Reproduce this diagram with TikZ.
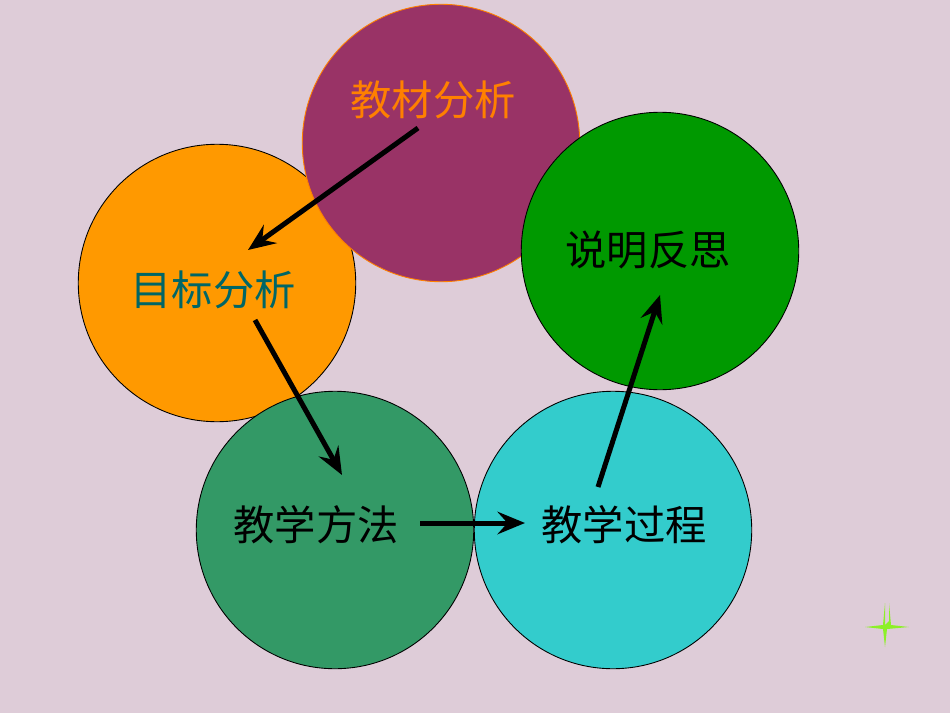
\documentclass[tikz,border=0pt]{standalone}
\usepackage{fontspec}
\newfontfamily\cjk{Noto Sans CJK SC}
\usetikzlibrary{arrows.meta}
\definecolor{bg}{RGB}{222,204,216}
\definecolor{maroon}{RGB}{153,51,102}
\definecolor{orng}{RGB}{255,153,0}
\definecolor{grn}{RGB}{0,153,0}
\definecolor{sea}{RGB}{51,153,102}
\definecolor{cyn}{RGB}{51,204,204}
\definecolor{tealtxt}{RGB}{0,102,102}
\definecolor{lime}{RGB}{140,240,40}
\begin{document}
\begin{tikzpicture}[x=0.02cm,y=-0.02cm,
  ball/.style={circle,minimum size=5.55cm,inner sep=0pt,draw=black,line width=0.5pt},
  lbl/.style={font=\cjk\light\fontsize{23.5}{28}\selectfont},
  flow/.style={line width=0.1cm,-{Stealth[length=0.55cm,width=0.45cm,inset=0.2cm]}}]
\providecommand\light{}
\fill[bg] (0,0) rectangle (950,713);
\useasboundingbox (0,0) rectangle (950,713);
\node[ball,fill=orng] (c2) at (217,283) {};
\node[ball,fill=maroon,draw=orange] (c1) at (441,143) {};
\node[ball,fill=sea] (c3) at (335,530) {};
\node[ball,fill=cyn] (c4) at (613,530) {};
\node[ball,fill=grn] (c5) at (660,251) {};
\node[lbl,text=orange] (t1) at (433,100) {教材分析};
\node[lbl,text=tealtxt] (t2) at (213,290) {目标分析};
\node[lbl] (t3) at (316,525) {教学方法};
\node[lbl] (t4) at (624,525) {教学过程};
\node[lbl] (t5) at (648,250) {说明反思};
\coordinate (a1s) at (418,128); \coordinate (a1e) at (248,250);
\coordinate (a2s) at (255,320); \coordinate (a2e) at (342,475);
\coordinate (a3s) at (420,523); \coordinate (a3e) at (525,523);
\coordinate (a4s) at (598,487); \coordinate (a4e) at (660,295);
\draw[flow] (a1s) -- (a1e);
\draw[flow] (a2s) -- (a2e);
\draw[flow] (a3s) -- (a3e);
\draw[flow] (a4s) -- (a4e);
\coordinate (s0) at (885,625);
\fill[lime] (s0) -- ++(4,-4) -- ++(0,-18) -- ++(2,22) -- ++(18,2) -- ++(-22,2) -- ++(-2,18) -- ++(-2,-18) -- ++(-18,-2) -- ++(18,-2) -- ++(2,-22) -- cycle;
\end{tikzpicture}
\end{document}
